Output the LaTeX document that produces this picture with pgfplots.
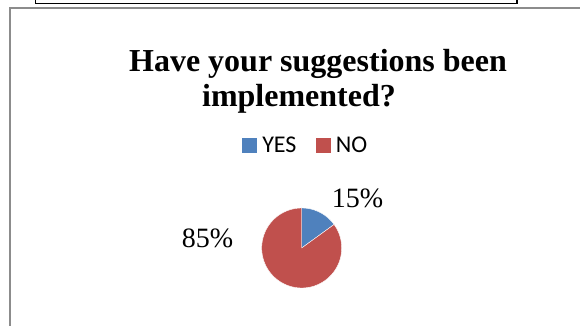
\documentclass[border=0pt]{standalone}
\usepackage{pgfplots}
\pgfplotsset{compat=1.18}
\usepackage{pgfplotstable}
\usepackage{fontspec}
\setmainfont{Liberation Serif}
\newfontfamily\carlito{Carlito}
\definecolor{yesblue}{HTML}{4F81BD}
\definecolor{nored}{HTML}{C0504D}
\definecolor{framegray}{HTML}{8C8C8C}
\pgfplotstableread{
answer share
YES 15
NO 85
}\piedata
\pgfplotstablegetelem{0}{share}\of\piedata \let\yesval\pgfplotsretval
\pgfplotstablegetelem{1}{share}\of\piedata \let\noval\pgfplotsretval
\pgfmathsetmacro\totalval{\yesval+\noval}
\begin{document}
\begin{tikzpicture}
\path[use as bounding box] (0,0) rectangle (580pt,326pt);
\begin{scope}
\clip (0,0) rectangle (580pt,326pt);
\fill[white] (0,0) rectangle (580pt,326pt);
\draw[framegray, line width=1.8pt] (10pt,-10pt) -- (10pt,317.8pt) -- (600pt,317.8pt);
\draw[black, line width=1.3pt] (35.7pt,330pt) -- (35.7pt,322.7pt) -- (517pt,322.7pt) -- (517pt,330pt);
\end{scope}
\begin{axis}[at={(0,0)}, anchor=origin, scale only axis, width=580pt, height=326pt,
  xmin=0, xmax=580, ymin=0, ymax=326, hide axis, clip=false,
  legend columns=2,
  legend style={at={(axis cs:241.7,181)}, anchor=west, draw=none, fill=none, inner sep=0pt,
    font=\carlito\fontsize{24}{28}\selectfont,
    /tikz/every odd column/.append style={column sep=4pt},
    /tikz/every even column/.append style={column sep=17pt}}]
\addplot[fill=yesblue, draw=white, line width=0.4pt, domain=0:\yesval, samples=40, variable=\t,
  legend image code/.code={\fill[yesblue] (0pt,-7pt) rectangle (14pt,7pt);}]
  ({301.7+40*cos(90-3.6*\t)}, {78+40*sin(90-3.6*\t)}) -- (axis cs:301.7,78) -- cycle;
\addlegendentry{YES}
\addplot[fill=nored, draw=white, line width=0.4pt, domain=\yesval:\totalval, samples=120, variable=\t,
  legend image code/.code={\fill[nored] (0pt,-7pt) rectangle (14pt,7pt);}]
  ({301.7+40*cos(90-3.6*\t)}, {78+40*sin(90-3.6*\t)}) -- (axis cs:301.7,78) -- cycle;
\addlegendentry{NO}
\end{axis}
\node[anchor=base, inner sep=0pt, font=\fontsize{32}{38}\selectfont\bfseries] at (318pt,254.3pt) {Have your suggestions been};
\node[anchor=base, inner sep=0pt, font=\fontsize{32}{38}\selectfont\bfseries] at (299pt,219.5pt) {implemented?};
\node[anchor=base west, inner sep=0pt, font=\fontsize{28}{32}\selectfont] at (331.7pt,118pt) {15\%};
\node[anchor=base west, inner sep=0pt, font=\fontsize{28}{32}\selectfont] at (181.7pt,78pt) {85\%};
\end{tikzpicture}
\end{document}
